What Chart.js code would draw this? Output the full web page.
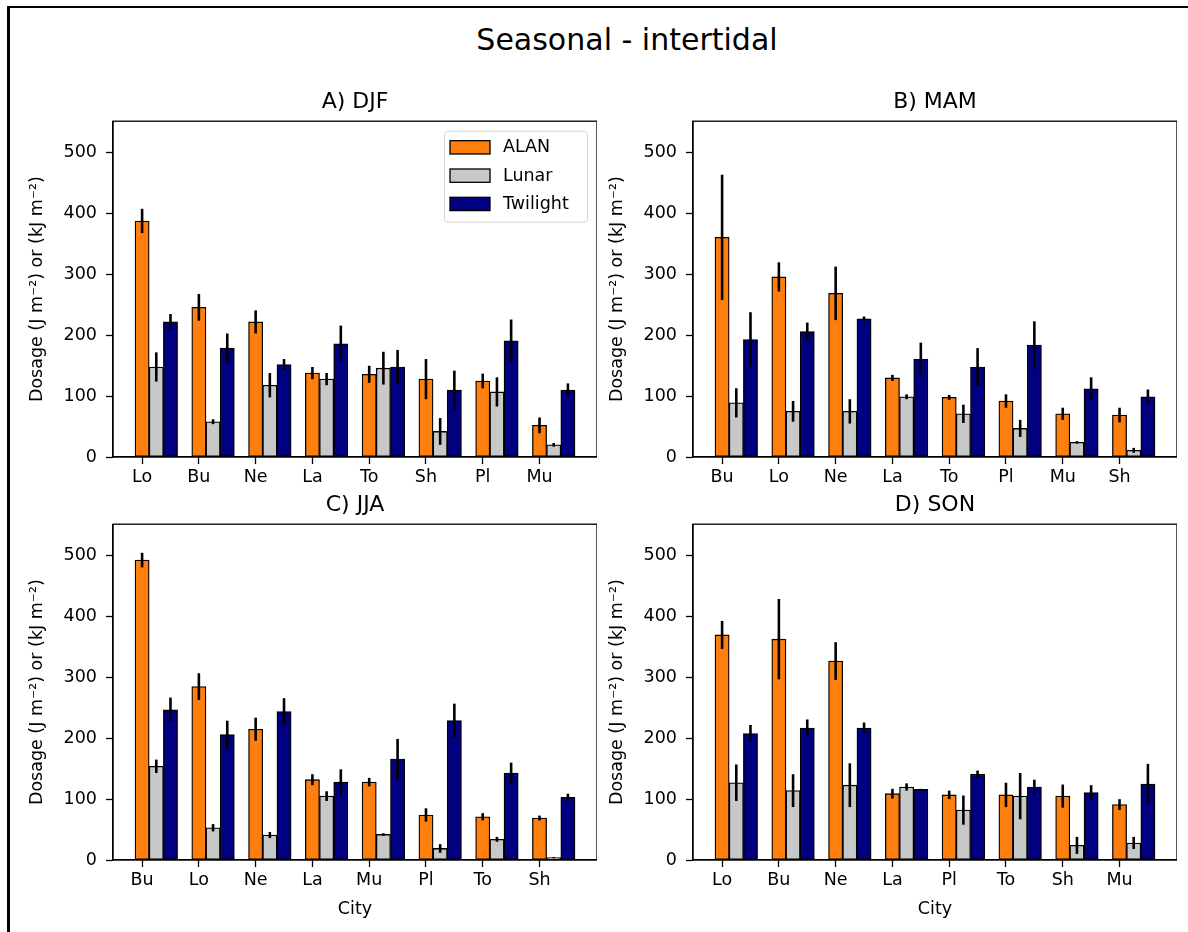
<!DOCTYPE html>
<html>
<head>
<meta charset="utf-8">
<title>Seasonal - intertidal</title>
<script src="https://cdn.jsdelivr.net/npm/chart.js@4.4.1/dist/chart.umd.min.js"></script>
<style>
  body { margin: 0; background: #fff; width: 1188px; height: 932px; overflow: hidden; position: relative; font-family: 'DejaVu Sans', sans-serif; }
  #frame { position: absolute; left: 7px; top: 6px; width: 1200px; height: 1000px; border-top: 2px solid #000; border-left: 3px solid #000; }
  #suptitle { position: absolute; left: 0; width: 1254px; top: 22px; line-height: 36px; text-align: center; font-size: 30px; color: #000; }
  canvas { position: absolute; }
</style>
</head>
<body>
<div id="frame"></div>
<div id="suptitle">Seasonal - intertidal</div>
<canvas id="chartA" width="587" height="417" style="left:10px;top:80px"></canvas>
<canvas id="chartB" width="587" height="417" style="left:590px;top:80px"></canvas>
<canvas id="chartC" width="587" height="449" style="left:10px;top:483px"></canvas>
<canvas id="chartD" width="587" height="449" style="left:590px;top:483px"></canvas>
<script>
// ---- data ----
const seriesNames = ['ALAN', 'Lunar', 'Twilight'];
const yTicks = [0, 100, 200, 300, 400, 500];
const yMax = 552;

const citiesDJF = ['Lo', 'Bu', 'Ne', 'La', 'To', 'Sh', 'Pl', 'Mu'];
const alanDJF = [388, 246, 222, 138, 136, 128, 125, 52];
const alanErrDJF = [20, 22, 19, 10, 14, 33, 12, 13];
const lunarDJF = [148, 58, 118, 128, 146, 42, 107, 20];
const lunarErrDJF = [24, 4, 20, 10, 27, 22, 24, 3];
const twilightDJF = [222, 179, 152, 186, 148, 110, 191, 110];
const twilightErrDJF = [13, 24, 9, 30, 28, 32, 35, 11];

const citiesMAM = ['Bu', 'Lo', 'Ne', 'La', 'To', 'Pl', 'Mu', 'Sh'];
const alanMAM = [361, 296, 269, 130, 98, 92, 71, 69];
const alanErrMAM = [103, 24, 44, 5, 4, 11, 10, 12];
const lunarMAM = [89, 75, 75, 99, 71, 47, 24, 11];
const lunarErrMAM = [24, 17, 20, 4, 15, 14, 2, 4];
const twilightMAM = [193, 206, 227, 161, 148, 184, 112, 99];
const twilightErrMAM = [45, 15, 4, 27, 31, 39, 19, 12];

const citiesJJA = ['Bu', 'Lo', 'Ne', 'La', 'Mu', 'Pl', 'To', 'Sh'];
const alanJJA = [493, 285, 215, 132, 128, 74, 71, 69];
const alanErrJJA = [12, 22, 19, 9, 7, 11, 6, 4];
const lunarJJA = [154, 53, 41, 105, 42, 19, 34, 4];
const lunarErrJJA = [11, 6, 5, 8, 2, 7, 4, 1];
const twilightJJA = [247, 206, 244, 128, 166, 229, 143, 103];
const twilightErrJJA = [20, 23, 22, 21, 33, 28, 17, 6];

const citiesSON = ['Lo', 'Bu', 'Ne', 'La', 'Pl', 'To', 'Sh', 'Mu'];
const alanSON = [370, 363, 327, 109, 107, 107, 105, 91];
const alanErrSON = [23, 66, 31, 8, 7, 20, 19, 9];
const lunarSON = [127, 114, 123, 120, 82, 105, 24, 28];
const lunarErrSON = [30, 27, 36, 6, 24, 38, 14, 10];
const twilightSON = [208, 217, 217, 116, 141, 120, 111, 125];
const twilightErrSON = [14, 14, 9, 1, 6, 12, 12, 33];

// ---- styling ----
const FONT = "'DejaVu Sans', sans-serif";
const colors = ['#ff7f0e', '#c6c9c7', '#000080'];
const barW = 0.25;
const yLabel = 'Dosage (J m\u207B\u00B2) or (kJ m\u207B\u00B2)';

/**
 * Black error bars on top of each bar, mapped through the y scale
 */
const errorBars = {
    id: 'errorBars',
    afterDatasetsDraw(chart) {
        const ctx = chart.ctx;
        const y = chart.scales.y;
        ctx.save();
        ctx.strokeStyle = '#000';
        ctx.lineWidth = 2.6;
        chart.data.datasets.forEach((ds, di) => {
            const meta = chart.getDatasetMeta(di);
            meta.data.forEach((bar, i) => {
                const v = ds.data[i].y;
                const e = ds.errors[i];
                ctx.beginPath();
                ctx.moveTo(bar.x, y.getPixelForValue(v - e));
                ctx.lineTo(bar.x, y.getPixelForValue(v + e));
                ctx.stroke();
            });
        });
        ctx.restore();
    }
};

/**
 * Full box around the axes (matplotlib spines)
 */
const spines = {
    id: 'spines',
    afterDraw(chart) {
        const { ctx, chartArea: a } = chart;
        ctx.save();
        ctx.strokeStyle = '#000';
        ctx.lineWidth = 1.3;
        ctx.strokeRect(a.left, a.top, a.right - a.left, a.bottom - a.top);
        ctx.restore();
    }
};

/**
 * Legend box in the upper right of the axes
 */
const boxLegend = {
    id: 'boxLegend',
    afterDraw(chart, args, opts) {
        if (!opts.show) return;
        const { ctx, chartArea: a } = chart;
        const bw = 143, bh = 91;
        const bx = a.right - 10 - bw, by = a.top + 9.5;
        ctx.save();
        ctx.beginPath();
        ctx.roundRect(bx + 0.5, by + 0.5, bw, bh, 3);
        ctx.fillStyle = 'rgba(255,255,255,0.8)';
        ctx.fill();
        ctx.strokeStyle = '#d6d6d6';
        ctx.lineWidth = 1;
        ctx.stroke();
        ctx.font = '17.5px ' + FONT;
        ctx.textBaseline = 'middle';
        chart.data.datasets.forEach((ds, i) => {
            const ry = by + 10 + i * 28.3;
            ctx.fillStyle = ds.backgroundColor;
            ctx.fillRect(bx + 6, ry, 40, 13.3);
            ctx.strokeStyle = '#000';
            ctx.lineWidth = 1.3;
            ctx.strokeRect(bx + 6, ry, 40, 13.3);
            ctx.fillStyle = '#000';
            ctx.fillText(ds.label, bx + 59, ry + 7);
        });
        ctx.restore();
    }
};

function makePanel(id, title, cities, series, errs, withCityLabel, withLegend) {
    const ctx = document.getElementById(id);
    const n = cities.length;
    const pad = 0.05 * (n - 1 + 2 * barW + barW);

    const datasets = series.map((vals, s) => ({
        label: seriesNames[s],
        data: vals.map((v, i) => ({ x: i + s * barW, y: v })),
        errors: errs[s],
        backgroundColor: colors[s],
        borderColor: '#000',
        borderWidth: 1.3,
        borderSkipped: false,
        grouped: false,
        barPercentage: 1,
        categoryPercentage: 1
    }));

    new Chart(ctx, {
        type: 'bar',
        data: { datasets },
        options: {
            responsive: false,
            animation: false,
            devicePixelRatio: 1,
            layout: { padding: 0 },
            plugins: {
                legend: { display: false },
                tooltip: { enabled: false },
                title: {
                    display: true,
                    text: title,
                    fullSize: false,
                    color: '#000',
                    font: { family: FONT, size: 22, weight: 'normal' },
                    padding: { top: 9, bottom: 5.8 }
                },
                boxLegend: { show: withLegend }
            },
            scales: {
                x: {
                    type: 'linear',
                    offset: false,
                    min: -barW / 2 - pad,
                    max: (n - 1) + 2 * barW + barW / 2 + pad,
                    afterBuildTicks: (axis) => { axis.ticks = cities.map((c, i) => ({ value: i })); },
                    afterFit: (axis) => { axis.height = withCityLabel ? 72 : 40; },
                    grid: { display: true, offset: false, drawOnChartArea: false, drawTicks: true, tickLength: 7, color: '#000', tickWidth: 1.3 },
                    border: { display: true, color: '#000', width: 1.3 },
                    ticks: {
                        autoSkip: false,
                        maxRotation: 0,
                        padding: 3,
                        color: '#000',
                        font: { family: FONT, size: 17.5 },
                        callback: (value) => cities[value]
                    },
                    title: {
                        display: withCityLabel,
                        text: 'City',
                        color: '#000',
                        font: { family: FONT, size: 17.5 },
                        padding: { top: 0, bottom: 12.5 }
                    }
                },
                y: {
                    min: 0,
                    max: yMax,
                    afterBuildTicks: (axis) => { axis.ticks = yTicks.map(v => ({ value: v })); },
                    afterFit: (axis) => { axis.width = 103; },
                    grid: { display: true, drawOnChartArea: false, drawTicks: true, tickLength: 7, color: '#000', tickWidth: 1.3 },
                    border: { display: true, color: '#000', width: 1.3 },
                    ticks: {
                        padding: 9,
                        color: '#000',
                        font: { family: FONT, size: 17.5 }
                    },
                    title: {
                        display: true,
                        text: yLabel,
                        color: '#000',
                        font: { family: FONT, size: 17.5 },
                        padding: { top: 16.5, bottom: 0 }
                    }
                }
            }
        },
        plugins: [errorBars, spines, boxLegend]
    });
}

makePanel('chartA', 'A) DJF', citiesDJF,
    [alanDJF, lunarDJF, twilightDJF], [alanErrDJF, lunarErrDJF, twilightErrDJF], false, true);
makePanel('chartB', 'B) MAM', citiesMAM,
    [alanMAM, lunarMAM, twilightMAM], [alanErrMAM, lunarErrMAM, twilightErrMAM], false, false);
makePanel('chartC', 'C) JJA', citiesJJA,
    [alanJJA, lunarJJA, twilightJJA], [alanErrJJA, lunarErrJJA, twilightErrJJA], true, false);
makePanel('chartD', 'D) SON', citiesSON,
    [alanSON, lunarSON, twilightSON], [alanErrSON, lunarErrSON, twilightErrSON], true, false);
</script>
</body>
</html>
